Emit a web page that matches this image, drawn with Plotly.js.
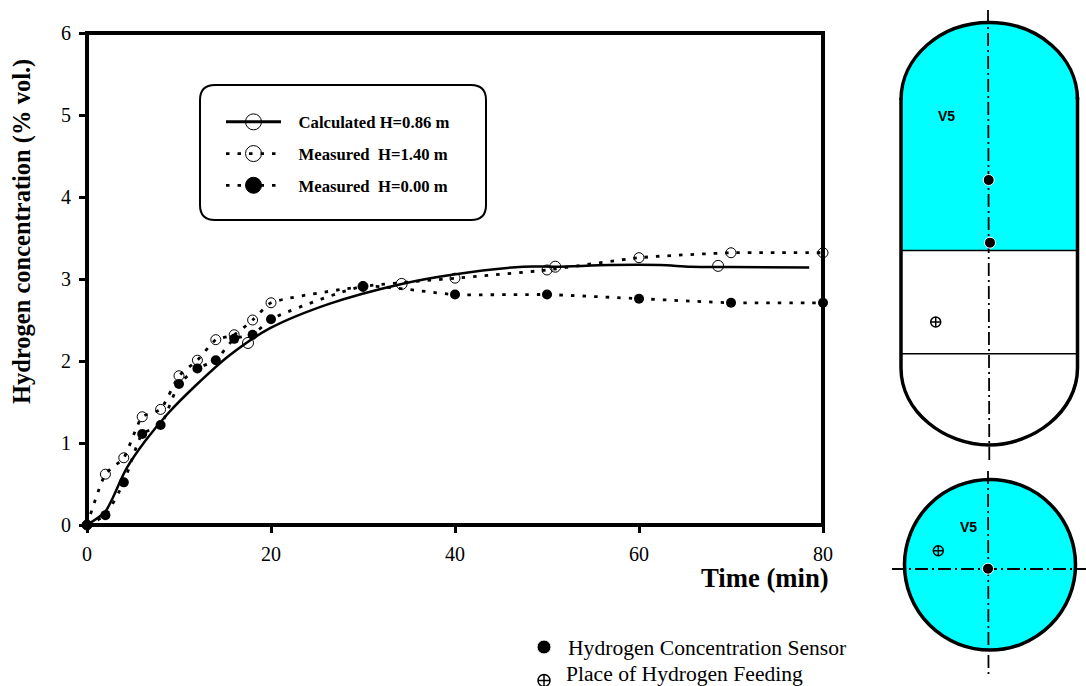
<!DOCTYPE html>
<html>
<head>
<meta charset="utf-8">
<script src="https://cdn.plot.ly/plotly-3.0.1.min.js"></script>
<style>html,body{margin:0;padding:0;background:#fff}#chart{width:1086px;height:686px}</style>
</head>
<body>
<div id="chart"></div>
<script>
// Calculated curve H=0.86 m
const calcTime = [0,1.96,2.86,3.6,4.3,6.3,8.8,11.9,15.5,19.9,26.4,34.2,39.5,47.4,51,56.8,62.3,65.6,69.9,78.5];
const calcConc = [0,0.16,0.345,0.53,0.69,1.02,1.36,1.71,2.07,2.40,2.70,2.94,3.05,3.15,3.15,3.17,3.17,3.15,3.145,3.14];
const calcMarkTime = [17.5,34.2,50.9,68.6];
const calcMarkConc = [2.22,2.94,3.15,3.16];
// Measured H=1.40 m
const highTime = [0,2,4,6,8,10,12,14,16,18,20,30,40,50,60,70,80];
const highConc = [0,0.62,0.82,1.32,1.41,1.82,2.01,2.26,2.32,2.5,2.71,2.91,3.01,3.11,3.26,3.32,3.32];
// Measured H=0.00 m
const lowTime = [0,2,4,6,8,10,12,14,16,18,20,30,40,50,60,70,80];
const lowConc = [0,0.12,0.52,1.11,1.22,1.72,1.91,2.01,2.27,2.32,2.51,2.91,2.81,2.81,2.76,2.71,2.71];
// Tick labels
const xTicks = [0,20,40,60,80];
const yTicks = [0,1,2,3,4,5,6];
// Legend and text labels
const legendNames = ['\u00a0\u00a0\u00a0Calculated H=0.86 m','\u00a0\u00a0\u00a0Measured\u00a0\u00a0H=1.40 m','\u00a0\u00a0\u00a0Measured\u00a0\u00a0H=0.00 m'];
const xLabel = 'Time (min)';
const yLabel = 'Hydrogen concentration (% vol.)';
const noteSensor = 'Hydrogen Concentration Sensor';
const noteFeed = 'Place of Hydrogen Feeding';
const vesselLabel = 'V5';

const W = 1086, H = 686;
const serif = '"Liberation Serif","Times New Roman",serif';
const sans = '"Liberation Sans",Arial,sans-serif';
const dots = '3.5px,8px';

// Page-pixel overlay positions for the schematic
const sensorX = [988.7,990,988,544];
const sensorY = [180,242.7,568.7,647];
const feedX = [935.7,938.3,544];
const feedY = [322,550.7,680.5];

function legendOnly(i, dash, symbol, width){
  return {x:[null],y:[null],mode:'lines+markers',name:legendNames[i],legendgroup:'g'+i,showlegend:true,
    line:{color:'#000',width:width,dash:dash},
    marker:{size:16,symbol:symbol,color:'#000',line:{color:'#000',width:1}},hoverinfo:'skip'};
}

const traces = [
  {x:calcTime,y:calcConc,mode:'lines',line:{color:'#000',width:2.5,shape:'spline',smoothing:0.8},showlegend:false,legendgroup:'g0',cliponaxis:false},
  {x:calcMarkTime,y:calcMarkConc,mode:'markers',marker:{symbol:'circle-open',size:11,color:'#000',line:{color:'#000',width:1}},showlegend:false,legendgroup:'g0',cliponaxis:false},
  {x:highTime,y:highConc,mode:'lines+markers',line:{color:'#000',width:2.8,dash:dots,shape:'spline',smoothing:0.5},
    marker:{symbol:'circle-open',size:10,color:'#000',line:{color:'#000',width:1}},showlegend:false,legendgroup:'g1',cliponaxis:false},
  {x:lowTime,y:lowConc,mode:'lines+markers',line:{color:'#000',width:2.8,dash:dots,shape:'spline',smoothing:0.5},
    marker:{symbol:'circle',size:10,color:'#000'},showlegend:false,legendgroup:'g2',cliponaxis:false},
  legendOnly(0,'solid','circle-open',3),
  legendOnly(1,dots,'circle-open',2.8),
  legendOnly(2,dots,'circle',2.8),
  {x:sensorX,y:sensorY,xaxis:'x2',yaxis:'y2',mode:'markers',marker:{symbol:'circle',size:[11,11,11,14],color:'#000',opacity:1},showlegend:false,cliponaxis:false},
  {x:feedX,y:feedY,xaxis:'x2',yaxis:'y2',mode:'markers',marker:{symbol:'circle-cross-open',size:[10,10,12],color:'#000',opacity:1,line:{color:'#000',width:1.5}},showlegend:false,cliponaxis:false}
];

function px(extra){return Object.assign({xref:'x2',yref:'y2',layer:'below'},extra);}
const k = 0.5523;
function dome(x0,x1,ys,ya,tail){
  const cx=(x0+x1)/2, rx=(x1-x0)/2, ry=ys-ya;
  return `M${x0},${ys} C${x0},${ys-k*ry} ${cx-k*rx},${ya} ${cx},${ya} C${cx+k*rx},${ya} ${x1},${ys-k*ry} ${x1},${ys} ${tail}`;
}
const dashDot = '13px,4px,2px,4px';
const ink = {color:'#000',width:3.5};
const shapes = [
  // plot frame, centred on the axis extremes
  px({type:'rect',x0:87,x1:823,y0:33,y1:525,line:{color:'#000',width:4},fillcolor:'rgba(0,0,0,0)'}),
  // legend box
  px({type:'path',path:'M215,85 L471,85 Q486,85 486,100 L486,205 Q486,220 471,220 L215,220 Q200,220 200,205 L200,100 Q200,85 215,85 Z',line:{color:'#000',width:2},fillcolor:'#fff'}),
  // vessel side view
  px({type:'path',path:dome(901,1077.5,100,22.5,'L1077.5,250.5 L901,250.5 Z'),fillcolor:'#00ffff',line:{width:0}}),
  px({type:'path',path:dome(901,1077.5,100,22.5,''),line:ink}),
  px({type:'path',path:'M901,98 L901,368 C901,412 945,445 989,445 C1033,445 1077.5,412 1077.5,368 L1077.5,97',line:ink}),
  px({type:'line',x0:901,x1:1077.5,y0:250.5,y1:250.5,line:{color:'#000',width:1.5}}),
  px({type:'line',x0:901,x1:1077.5,y0:353.7,y1:353.7,line:{color:'#000',width:1.5}}),
  px({type:'line',x0:988,x1:989.3,y0:10,y1:460,line:{color:'#000',width:1.8,dash:dashDot}}),
  // vessel end view
  px({type:'circle',x0:904.5,x1:1075.5,y0:479.5,y1:650,fillcolor:'#00ffff',line:ink}),
  px({type:'line',x0:988,x1:988.5,y0:471,y1:677,line:{color:'#000',width:1.8,dash:dashDot}}),
  px({type:'line',x0:892,x1:1086,y0:569,y1:569,line:{color:'#000',width:1.8,dash:dashDot}})
];

function note(text,x,y,size,family,bold,anchor,angle){
  return {xref:'x2',yref:'y2',x:x,y:y,text:bold?'<b>'+text+'</b>':text,showarrow:false,xanchor:anchor,yanchor:'middle',
    textangle:angle||0,font:{family:family,size:size,color:'#000'}};
}
const annotations = [
  note(xLabel,831,578,26.7,serif,true,'right'),
  note(yLabel,22,232,24.5,serif,true,'center',-90),
  note(noteSensor,566,648,21.6,serif,false,'left'),
  note(noteFeed,564,674,21.6,serif,false,'left'),
  note(vesselLabel,946,116,14,sans,true,'center'),
  note(vesselLabel,968,526.7,14,sans,true,'center')
];

const layout = {
  width:W,height:H,margin:{l:0,r:0,t:0,b:0},paper_bgcolor:'#fff',plot_bgcolor:'rgba(0,0,0,0)',
  font:{family:serif,color:'#000'},
  xaxis:{domain:[87/W,823/W],range:[0,80],tickvals:xTicks,ticks:'outside',ticklen:7,tickwidth:3,tickcolor:'#000',
    showline:false,showgrid:false,zeroline:false,anchor:'y',
    tickfont:{family:serif,size:20,color:'#000'},ticklabelstandoff:4},
  yaxis:{domain:[1-525/H,1-33/H],range:[0,6],tickvals:yTicks,ticks:'outside',ticklen:7,tickwidth:3,tickcolor:'#000',
    showline:false,showgrid:false,zeroline:false,anchor:'x',
    tickfont:{family:serif,size:20,color:'#000'},ticklabelstandoff:4},
  xaxis2:{domain:[0,1],range:[0,W],visible:false,anchor:'y2',fixedrange:true},
  yaxis2:{domain:[0,1],range:[H,0],visible:false,anchor:'x2',fixedrange:true},
  showlegend:true,
  legend:{x:221/W,y:1-104.5/H,xanchor:'left',yanchor:'top',bgcolor:'rgba(0,0,0,0)',borderwidth:0,
    traceorder:'grouped',tracegroupgap:7,itemwidth:55,itemclick:false,itemdoubleclick:false,
    font:{family:serif,size:16.7,color:'#000',weight:'bold'}},
  shapes:shapes,annotations:annotations
};
Plotly.newPlot('chart',traces,layout,{displayModeBar:false,responsive:false});
</script>
</body>
</html>
